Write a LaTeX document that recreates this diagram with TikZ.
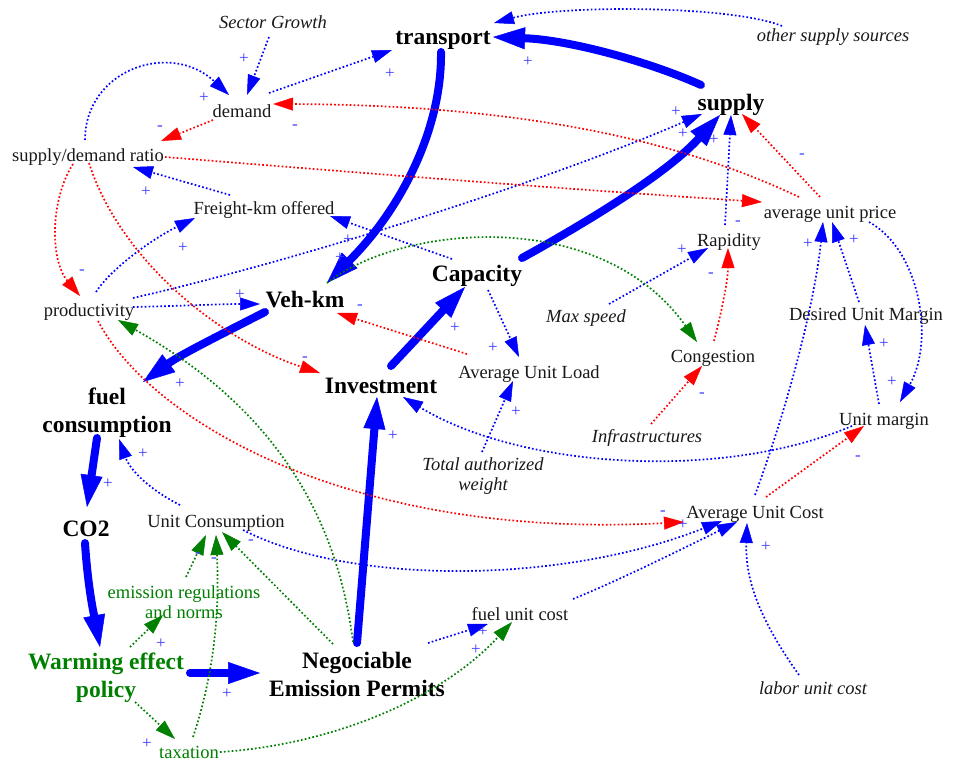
\documentclass[tikz,border=0pt]{standalone}
\usepackage{fontspec}
\setmainfont{Liberation Serif}
\usetikzlibrary{arrows.meta,calc}
\definecolor{cblue}{RGB}{0,0,255}
\definecolor{cred}{RGB}{255,0,0}
\definecolor{cgreen}{RGB}{0,128,0}
\definecolor{csign}{RGB}{60,60,255}
\definecolor{ctext}{RGB}{25,25,25}
\tikzset{
 lbl/.style={inner sep=0pt, text=ctext, font=\fontsize{18.5}{20}\selectfont, align=center},
 itl/.style={lbl, font=\itshape\fontsize{18.5}{20}\selectfont},
 bigl/.style={inner sep=0pt, text=black, font=\bfseries\fontsize{23.5}{28}\selectfont, align=center},
 glbl/.style={lbl, text=cgreen},
 gbig/.style={bigl, text=cgreen},
 dotl/.style={line width=1.7pt, dash pattern=on 1.7pt off 2.2pt, -{Triangle[length=20pt,width=13pt,line width=0.5pt]}},
 bdot/.style={dotl, color=cblue},
 rdot/.style={dotl, color=cred},
 gdot/.style={dotl, color=cgreen},
 thk/.style={line width=8pt, color=cblue, line cap=round, -{Triangle[length=32pt,width=22pt,line width=0.5pt]}},
 sgn/.style={inner sep=0pt, text=csign, font=\fontsize{17}{17}\selectfont},
}
\begin{document}
\begin{tikzpicture}[x=1pt,y=-1pt]
\fill[white] (0,0) rectangle (959,761);
\useasboundingbox (0,0) rectangle (959,761);

% nodes
\node[itl] (sg) at (273,22) {Sector Growth};
\node[bigl] (tr) at (443,40) {transport};
\node[itl] (oss) at (833,37) {other supply sources};
\node[bigl] (sup) at (731,105) {supply};
\node[lbl] (dem) at (242,111) {demand};
\node[lbl] (sdr) at (88,157) {supply/demand ratio};
\node[lbl] (fko) at (264,210) {Freight-km offered};
\node[lbl] (aup) at (830,214) {average unit price};
\node[lbl] (rap) at (729,242) {Rapidity};
\node[bigl] (cap) at (477,276) {Capacity};
\node[lbl] (prod) at (89,312) {productivity};
\node[bigl] (vkm) at (305,300) {Veh-km};
\node[itl] (ms) at (586,318) {Max speed};
\node[lbl] (dum) at (866,316) {Desired Unit Margin};
\node[lbl] (cong) at (713,358) {Congestion};
\node[bigl] (inv) at (381,386) {Investment};
\node[lbl] (aul) at (529,374) {Average Unit Load};
\node[bigl] (fc) at (107,413) {fuel\\consumption};
\node[itl] (inf) at (647,438) {Infrastructures};
\node[lbl] (um) at (884,421) {Unit margin};
\node[itl] (taw) at (483,476) {Total authorized\\weight};
\node[bigl] (co2) at (86,529) {CO2};
\node[lbl] (uc) at (216,523) {Unit Consumption};
\node[lbl] (auc) at (755,514) {Average Unit Cost};
\node[glbl] (ern) at (184,602) {emission regulations\\and norms};
\node[lbl] (fuc) at (520,614) {fuel unit cost};
\node[gbig] (wep) at (106,678) {Warming effect\\policy};
\node[bigl] (nep) at (357,674) {Negociable\\Emission Permits};
\node[itl] (luc) at (813,688) {labor unit cost};
\node[glbl] (tax) at (189,752) {taxation};

% thick blue
\draw[thk] ($(sup)+(-30,-20)$) .. controls (650,62) and (570,40) .. ($(tr)+(50,-3)$);
\draw[thk] ($(tr)+(-2,12)$) .. controls (442,130) and (400,210) .. ($(vkm)+(22,-17)$);
\draw[thk] ($(cap)+(45,-18)$) .. controls (600,215) and (670,170) .. ($(sup)+(-11,10)$);
\draw[thk] ($(vkm)+(-40,12)$) .. controls (220,335) and (180,355) .. ($(fc)+(36,-31)$);
\draw[thk] ($(fc)+(-10,25)$) -- ($(co2)+(1,-22)$);
\draw[thk] ($(co2)+(-1,14)$) .. controls (88,590) and (95,620) .. ($(wep)+(-6,-31)$);
\draw[thk] ($(wep)+(84,-5)$) -- ($(nep)+(-97,-1)$);
\draw[thk] ($(nep)+(0,-31)$) -- ($(inv)+(-4,11)$);
\draw[thk] ($(inv)+(10,-20)$) -- ($(cap)+(-12,11)$);

% blue dotted
\draw[bdot] ($(sg)+(-4,15)$) -- ($(dem)+(5,-16)$);
\draw[bdot] ($(sdr)+(-3,-17)$) .. controls (85,70) and (170,40) .. ($(dem)+(-13,-16)$);
\draw[bdot] ($(dem)+(27,-18)$) -- ($(tr)+(-51,10)$);
\draw[bdot] ($(oss)+(-51,-11)$) .. controls (730,5) and (560,5) .. ($(tr)+(51,-17)$);
\draw[bdot] ($(fko)+(-34,-15)$) -- ($(sdr)+(45,10)$);
\draw[bdot] ($(prod)+(7,-20)$) .. controls (110,270) and (150,240) .. ($(fko)+(-69,8)$);
\draw[bdot] ($(cap)+(-25,-17)$) -- ($(fko)+(66,6)$);
\draw[bdot] ($(prod)+(44,-14)$) .. controls (300,260) and (550,180) .. ($(sup)+(-29,9)$);
\draw[bdot] ($(prod)+(44,-5)$) .. controls (180,306) and (220,304) .. ($(vkm)+(-45,4)$);
\draw[bdot] ($(cap)+(11,14)$) -- ($(aul)+(-10,-17)$);
\draw[bdot] ($(taw)+(-1,-24)$) -- ($(aul)+(-16,7)$);
\draw[bdot] ($(um)+(-32,5)$) .. controls (720,482) and (520,468) .. ($(inv)+(22,11)$);
\draw[bdot] ($(ms)+(23,-14)$) -- ($(rap)+(-21,6)$);
\draw[bdot] ($(rap)+(-4,-17)$) -- ($(sup)+(0,10)$);
\draw[bdot] ($(auc)+(0,-19)$) .. controls (790,400) and (815,300) .. ($(aup)+(-7,8)$);
\draw[bdot] ($(dum)+(-7,-14)$) -- ($(aup)+(2,8)$);
\draw[bdot] ($(aup)+(39,8)$) .. controls (920,250) and (935,340) .. ($(um)+(16,-19)$);
\draw[bdot] ($(um)+(-5,-17)$) -- ($(dum)+(-1,9)$);
\draw[bdot] ($(uc)+(-36,-18)$) .. controls (150,490) and (130,470) .. ($(fc)+(12,26)$);
\draw[bdot] ($(uc)+(27,7)$) .. controls (350,585) and (560,585) .. ($(auc)+(-33,7)$);
\draw[bdot] ($(fuc)+(53,-15)$) .. controls (620,580) and (690,545) .. ($(auc)+(-18,8)$);
\draw[bdot] ($(nep)+(71,-31)$) -- ($(fuc)+(-32,10)$);
\draw[bdot] ($(luc)+(-14,-13)$) .. controls (760,620) and (745,580) .. ($(auc)+(-8,9)$);

% red dotted
\draw[rdot] ($(aup)+(-31,-17)$) .. controls (700,150) and (550,105) .. ($(dem)+(31,-7)$);
\draw[rdot] ($(dem)+(-29,9)$) -- ($(sdr)+(73,-16)$);
\draw[rdot] ($(sdr)+(77,0)$) .. controls (350,172) and (550,188) .. ($(aup)+(-68,-12)$);
\draw[rdot] ($(sdr)+(-15,7)$) .. controls (50,200) and (50,260) .. ($(prod)+(-9,-16)$);
\draw[rdot] ($(sdr)+(1,6)$) .. controls (120,260) and (220,340) .. ($(inv)+(-61,-13)$);
\draw[rdot] ($(prod)+(9,9)$) .. controls (150,420) and (350,540) .. ($(auc)+(-71,8)$);
\draw[rdot] ($(aup)+(-10,-17)$) -- ($(sup)+(11,9)$);
\draw[rdot] ($(aul)+(-62,-20)$) -- ($(vkm)+(32,13)$);
\draw[rdot] ($(cong)+(1,-17)$) .. controls (722,310) and (728,280) .. ($(rap)+(-1,6)$);
\draw[rdot] ($(inf)+(4,-14)$) -- ($(cong)+(-11,8)$);
\draw[rdot] ($(auc)+(11,-17)$) -- ($(um)+(-20,5)$);

% green dotted
\draw[gdot] ($(vkm)+(22,-17)$) .. controls (400,225) and (600,205) .. ($(cong)+(-16,-16)$);
\draw[gdot] ($(nep)+(-4,-32)$) .. controls (335,500) and (260,400) .. ($(prod)+(29,8)$);
\draw[gdot] ($(nep)+(-24,-30)$) -- ($(uc)+(6,9)$);
\draw[gdot] ($(ern)+(2,-25)$) -- ($(uc)+(-10,12)$);
\draw[gdot] ($(tax)+(4,-15)$) .. controls (212,680) and (220,620) .. ($(uc)+(0,12)$);
\draw[gdot] ($(wep)+(24,-31)$) -- ($(ern)+(-21,13)$);
\draw[gdot] ($(wep)+(29,24)$) -- ($(tax)+(-14,-13)$);
\draw[gdot] ($(tax)+(31,0)$) .. controls (330,745) and (440,700) .. ($(fuc)+(-8,8)$);

% signs
\node[sgn] (p1) at (244,59) {+};
\node[sgn] (p2) at (204,98) {+};
\node[sgn] (p3) at (390,74) {+};
\node[sgn] (p4) at (528,62) {+};
\node[sgn] (p5) at (146,192) {+};
\node[sgn] (p6) at (183,248) {+};
\node[sgn] (p7) at (348,240) {+};
\node[sgn] (p8) at (340,258) {+};
\node[sgn] (p9) at (676,112) {+};
\node[sgn] (p10) at (683,134) {+};
\node[sgn] (p11) at (714,140) {+};
\node[sgn] (p12) at (808,244) {+};
\node[sgn] (p13) at (854,240) {+};
\node[sgn] (p14) at (682,250) {+};
\node[sgn] (p15) at (240,295) {+};
\node[sgn] (p16) at (180,384) {+};
\node[sgn] (p17) at (143,454) {+};
\node[sgn] (p18) at (108,484) {+};
\node[sgn] (p19) at (455,328) {+};
\node[sgn] (p20) at (493,348) {+};
\node[sgn] (p21) at (516,412) {+};
\node[sgn] (p22) at (393,436) {+};
\node[sgn] (p23) at (884,344) {+};
\node[sgn] (p24) at (892,382) {+};
\node[sgn] (p25) at (161,644) {+};
\node[sgn] (p26) at (227,694) {+};
\node[sgn] (p27) at (147,744) {+};
\node[sgn] (p28) at (483,632) {+};
\node[sgn] (p29) at (476,650) {+};
\node[sgn] (p30) at (683,525) {+};
\node[sgn] (p31) at (766,547) {+};
\node[sgn] (m1) at (160,128) {-};
\node[sgn] (m2) at (295,127) {-};
\node[sgn] (m3) at (82,272) {-};
\node[sgn] (m4) at (305,359) {-};
\node[sgn] (m5) at (360,307) {-};
\node[sgn] (m6) at (802,156) {-};
\node[sgn] (m7) at (738,223) {-};
\node[sgn] (m8) at (711,275) {-};
\node[sgn] (m9) at (702,395) {-};
\node[sgn] (m10) at (858,458) {-};
\node[sgn] (m11) at (198,555) {-};
\node[sgn] (m12) at (214,560) {-};
\node[sgn] (m13) at (251,542) {-};
\node[sgn] (m14) at (663,513) {-};
\end{tikzpicture}
\end{document}
